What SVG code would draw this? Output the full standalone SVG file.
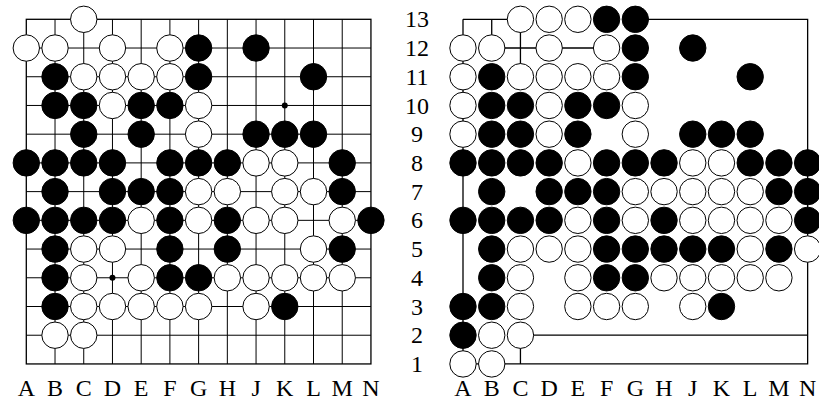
<svg xmlns="http://www.w3.org/2000/svg" width="819" height="402" viewBox="0 0 819 402">
<style>
.grid{fill:none;stroke:#000;stroke-width:1}
.edge{fill:none;stroke:#000;stroke-width:1.3}
.w{fill:#fff;stroke:#000;stroke-width:1}
.b{fill:#000;stroke:#000;stroke-width:1}
.star{fill:#000}
text{font-family:"Liberation Serif","Times New Roman",serif;font-size:24px;fill:#000;text-anchor:middle}
</style>
<rect width="819" height="402" fill="#fff"/>
<g id="left-board" transform="translate(26.3,19.3)">
<g id="left-grid">
<path class="grid" d="M0 28.72H344.64M0 57.44H344.64M0 86.16H344.64M0 114.88H344.64M0 143.6H344.64M0 172.32H344.64M0 201.04H344.64M0 229.76H344.64M0 258.48H344.64M0 287.2H344.64M0 315.92H344.64M28.72 0V344.64M57.44 0V344.64M86.16 0V344.64M114.88 0V344.64M143.6 0V344.64M172.32 0V344.64M201.04 0V344.64M229.76 0V344.64M258.48 0V344.64M287.2 0V344.64M315.92 0V344.64"/>
<rect class="edge" x="0" y="0" width="344.64" height="344.64"/>
<circle class="star" cx="258.48" cy="86.16" r="3"/>
<circle class="star" cx="86.16" cy="258.48" r="3"/>
</g>
<g id="left-stones">
<circle class="w" cx="57.44" cy="0" r="13.2"/>
<circle class="w" cx="0" cy="28.72" r="13.2"/>
<circle class="w" cx="28.72" cy="28.72" r="13.2"/>
<circle class="w" cx="86.16" cy="28.72" r="13.2"/>
<circle class="w" cx="143.6" cy="28.72" r="13.2"/>
<circle class="b" cx="172.32" cy="28.72" r="13.2"/>
<circle class="b" cx="229.76" cy="28.72" r="13.2"/>
<circle class="b" cx="28.72" cy="57.44" r="13.2"/>
<circle class="w" cx="57.44" cy="57.44" r="13.2"/>
<circle class="w" cx="86.16" cy="57.44" r="13.2"/>
<circle class="w" cx="114.88" cy="57.44" r="13.2"/>
<circle class="w" cx="143.6" cy="57.44" r="13.2"/>
<circle class="b" cx="172.32" cy="57.44" r="13.2"/>
<circle class="b" cx="287.2" cy="57.44" r="13.2"/>
<circle class="b" cx="28.72" cy="86.16" r="13.2"/>
<circle class="b" cx="57.44" cy="86.16" r="13.2"/>
<circle class="w" cx="86.16" cy="86.16" r="13.2"/>
<circle class="b" cx="114.88" cy="86.16" r="13.2"/>
<circle class="b" cx="143.6" cy="86.16" r="13.2"/>
<circle class="w" cx="172.32" cy="86.16" r="13.2"/>
<circle class="b" cx="57.44" cy="114.88" r="13.2"/>
<circle class="b" cx="114.88" cy="114.88" r="13.2"/>
<circle class="w" cx="172.32" cy="114.88" r="13.2"/>
<circle class="b" cx="229.76" cy="114.88" r="13.2"/>
<circle class="b" cx="258.48" cy="114.88" r="13.2"/>
<circle class="b" cx="287.2" cy="114.88" r="13.2"/>
<circle class="b" cx="0" cy="143.6" r="13.2"/>
<circle class="b" cx="28.72" cy="143.6" r="13.2"/>
<circle class="b" cx="57.44" cy="143.6" r="13.2"/>
<circle class="b" cx="86.16" cy="143.6" r="13.2"/>
<circle class="b" cx="143.6" cy="143.6" r="13.2"/>
<circle class="b" cx="172.32" cy="143.6" r="13.2"/>
<circle class="b" cx="201.04" cy="143.6" r="13.2"/>
<circle class="w" cx="229.76" cy="143.6" r="13.2"/>
<circle class="w" cx="258.48" cy="143.6" r="13.2"/>
<circle class="b" cx="315.92" cy="143.6" r="13.2"/>
<circle class="b" cx="28.72" cy="172.32" r="13.2"/>
<circle class="b" cx="86.16" cy="172.32" r="13.2"/>
<circle class="b" cx="114.88" cy="172.32" r="13.2"/>
<circle class="b" cx="143.6" cy="172.32" r="13.2"/>
<circle class="w" cx="172.32" cy="172.32" r="13.2"/>
<circle class="w" cx="201.04" cy="172.32" r="13.2"/>
<circle class="w" cx="258.48" cy="172.32" r="13.2"/>
<circle class="w" cx="287.2" cy="172.32" r="13.2"/>
<circle class="b" cx="315.92" cy="172.32" r="13.2"/>
<circle class="b" cx="0" cy="201.04" r="13.2"/>
<circle class="b" cx="28.72" cy="201.04" r="13.2"/>
<circle class="b" cx="57.44" cy="201.04" r="13.2"/>
<circle class="b" cx="86.16" cy="201.04" r="13.2"/>
<circle class="w" cx="114.88" cy="201.04" r="13.2"/>
<circle class="b" cx="143.6" cy="201.04" r="13.2"/>
<circle class="w" cx="172.32" cy="201.04" r="13.2"/>
<circle class="b" cx="201.04" cy="201.04" r="13.2"/>
<circle class="w" cx="229.76" cy="201.04" r="13.2"/>
<circle class="w" cx="258.48" cy="201.04" r="13.2"/>
<circle class="w" cx="315.92" cy="201.04" r="13.2"/>
<circle class="b" cx="344.64" cy="201.04" r="13.2"/>
<circle class="b" cx="28.72" cy="229.76" r="13.2"/>
<circle class="w" cx="57.44" cy="229.76" r="13.2"/>
<circle class="w" cx="86.16" cy="229.76" r="13.2"/>
<circle class="b" cx="143.6" cy="229.76" r="13.2"/>
<circle class="b" cx="201.04" cy="229.76" r="13.2"/>
<circle class="w" cx="287.2" cy="229.76" r="13.2"/>
<circle class="b" cx="315.92" cy="229.76" r="13.2"/>
<circle class="b" cx="28.72" cy="258.48" r="13.2"/>
<circle class="w" cx="57.44" cy="258.48" r="13.2"/>
<circle class="w" cx="114.88" cy="258.48" r="13.2"/>
<circle class="b" cx="143.6" cy="258.48" r="13.2"/>
<circle class="b" cx="172.32" cy="258.48" r="13.2"/>
<circle class="w" cx="201.04" cy="258.48" r="13.2"/>
<circle class="w" cx="229.76" cy="258.48" r="13.2"/>
<circle class="w" cx="258.48" cy="258.48" r="13.2"/>
<circle class="w" cx="287.2" cy="258.48" r="13.2"/>
<circle class="w" cx="315.92" cy="258.48" r="13.2"/>
<circle class="b" cx="28.72" cy="287.2" r="13.2"/>
<circle class="w" cx="57.44" cy="287.2" r="13.2"/>
<circle class="w" cx="86.16" cy="287.2" r="13.2"/>
<circle class="w" cx="114.88" cy="287.2" r="13.2"/>
<circle class="w" cx="143.6" cy="287.2" r="13.2"/>
<circle class="w" cx="172.32" cy="287.2" r="13.2"/>
<circle class="w" cx="229.76" cy="287.2" r="13.2"/>
<circle class="b" cx="258.48" cy="287.2" r="13.2"/>
<circle class="w" cx="28.72" cy="315.92" r="13.2"/>
<circle class="w" cx="57.44" cy="315.92" r="13.2"/>
</g>
</g>
<g id="right-board" transform="translate(463,19.3)">
<g id="right-lines">
<path class="edge" d="M0 0H57.44M172.32 0H344.64V344.64H0V0M28.72 0V28.72M28.72 28.72H143.6M57.44 0V57.44M57.44 315.92H344.64M57.44 315.92V344.64"/>
</g>
<g id="right-stones">
<circle class="w" cx="57.44" cy="0" r="13.2"/>
<circle class="w" cx="86.16" cy="0" r="13.2"/>
<circle class="w" cx="114.88" cy="0" r="13.2"/>
<circle class="b" cx="143.6" cy="0" r="13.2"/>
<circle class="b" cx="172.32" cy="0" r="13.2"/>
<circle class="w" cx="0" cy="28.72" r="13.2"/>
<circle class="w" cx="28.72" cy="28.72" r="13.2"/>
<circle class="w" cx="86.16" cy="28.72" r="13.2"/>
<circle class="w" cx="143.6" cy="28.72" r="13.2"/>
<circle class="b" cx="172.32" cy="28.72" r="13.2"/>
<circle class="b" cx="229.76" cy="28.72" r="13.2"/>
<circle class="w" cx="0" cy="57.44" r="13.2"/>
<circle class="b" cx="28.72" cy="57.44" r="13.2"/>
<circle class="w" cx="57.44" cy="57.44" r="13.2"/>
<circle class="w" cx="86.16" cy="57.44" r="13.2"/>
<circle class="w" cx="114.88" cy="57.44" r="13.2"/>
<circle class="w" cx="143.6" cy="57.44" r="13.2"/>
<circle class="b" cx="172.32" cy="57.44" r="13.2"/>
<circle class="b" cx="287.2" cy="57.44" r="13.2"/>
<circle class="w" cx="0" cy="86.16" r="13.2"/>
<circle class="b" cx="28.72" cy="86.16" r="13.2"/>
<circle class="b" cx="57.44" cy="86.16" r="13.2"/>
<circle class="w" cx="86.16" cy="86.16" r="13.2"/>
<circle class="b" cx="114.88" cy="86.16" r="13.2"/>
<circle class="b" cx="143.6" cy="86.16" r="13.2"/>
<circle class="w" cx="172.32" cy="86.16" r="13.2"/>
<circle class="w" cx="0" cy="114.88" r="13.2"/>
<circle class="b" cx="28.72" cy="114.88" r="13.2"/>
<circle class="b" cx="57.44" cy="114.88" r="13.2"/>
<circle class="w" cx="86.16" cy="114.88" r="13.2"/>
<circle class="b" cx="114.88" cy="114.88" r="13.2"/>
<circle class="w" cx="172.32" cy="114.88" r="13.2"/>
<circle class="b" cx="229.76" cy="114.88" r="13.2"/>
<circle class="b" cx="258.48" cy="114.88" r="13.2"/>
<circle class="b" cx="287.2" cy="114.88" r="13.2"/>
<circle class="b" cx="0" cy="143.6" r="13.2"/>
<circle class="b" cx="28.72" cy="143.6" r="13.2"/>
<circle class="b" cx="57.44" cy="143.6" r="13.2"/>
<circle class="b" cx="86.16" cy="143.6" r="13.2"/>
<circle class="w" cx="114.88" cy="143.6" r="13.2"/>
<circle class="b" cx="143.6" cy="143.6" r="13.2"/>
<circle class="b" cx="172.32" cy="143.6" r="13.2"/>
<circle class="b" cx="201.04" cy="143.6" r="13.2"/>
<circle class="w" cx="229.76" cy="143.6" r="13.2"/>
<circle class="w" cx="258.48" cy="143.6" r="13.2"/>
<circle class="b" cx="287.2" cy="143.6" r="13.2"/>
<circle class="b" cx="315.92" cy="143.6" r="13.2"/>
<circle class="b" cx="344.64" cy="143.6" r="13.2"/>
<circle class="b" cx="28.72" cy="172.32" r="13.2"/>
<circle class="b" cx="86.16" cy="172.32" r="13.2"/>
<circle class="b" cx="114.88" cy="172.32" r="13.2"/>
<circle class="b" cx="143.6" cy="172.32" r="13.2"/>
<circle class="w" cx="172.32" cy="172.32" r="13.2"/>
<circle class="w" cx="201.04" cy="172.32" r="13.2"/>
<circle class="w" cx="229.76" cy="172.32" r="13.2"/>
<circle class="w" cx="258.48" cy="172.32" r="13.2"/>
<circle class="w" cx="287.2" cy="172.32" r="13.2"/>
<circle class="b" cx="315.92" cy="172.32" r="13.2"/>
<circle class="b" cx="344.64" cy="172.32" r="13.2"/>
<circle class="b" cx="0" cy="201.04" r="13.2"/>
<circle class="b" cx="28.72" cy="201.04" r="13.2"/>
<circle class="b" cx="57.44" cy="201.04" r="13.2"/>
<circle class="b" cx="86.16" cy="201.04" r="13.2"/>
<circle class="w" cx="114.88" cy="201.04" r="13.2"/>
<circle class="b" cx="143.6" cy="201.04" r="13.2"/>
<circle class="w" cx="172.32" cy="201.04" r="13.2"/>
<circle class="b" cx="201.04" cy="201.04" r="13.2"/>
<circle class="w" cx="229.76" cy="201.04" r="13.2"/>
<circle class="w" cx="258.48" cy="201.04" r="13.2"/>
<circle class="w" cx="287.2" cy="201.04" r="13.2"/>
<circle class="w" cx="315.92" cy="201.04" r="13.2"/>
<circle class="b" cx="344.64" cy="201.04" r="13.2"/>
<circle class="b" cx="28.72" cy="229.76" r="13.2"/>
<circle class="w" cx="57.44" cy="229.76" r="13.2"/>
<circle class="w" cx="86.16" cy="229.76" r="13.2"/>
<circle class="w" cx="114.88" cy="229.76" r="13.2"/>
<circle class="b" cx="143.6" cy="229.76" r="13.2"/>
<circle class="b" cx="172.32" cy="229.76" r="13.2"/>
<circle class="b" cx="201.04" cy="229.76" r="13.2"/>
<circle class="b" cx="229.76" cy="229.76" r="13.2"/>
<circle class="b" cx="258.48" cy="229.76" r="13.2"/>
<circle class="w" cx="287.2" cy="229.76" r="13.2"/>
<circle class="b" cx="315.92" cy="229.76" r="13.2"/>
<circle class="w" cx="344.64" cy="229.76" r="13.2"/>
<circle class="b" cx="28.72" cy="258.48" r="13.2"/>
<circle class="w" cx="57.44" cy="258.48" r="13.2"/>
<circle class="w" cx="114.88" cy="258.48" r="13.2"/>
<circle class="b" cx="143.6" cy="258.48" r="13.2"/>
<circle class="b" cx="172.32" cy="258.48" r="13.2"/>
<circle class="w" cx="201.04" cy="258.48" r="13.2"/>
<circle class="w" cx="229.76" cy="258.48" r="13.2"/>
<circle class="w" cx="258.48" cy="258.48" r="13.2"/>
<circle class="w" cx="287.2" cy="258.48" r="13.2"/>
<circle class="w" cx="315.92" cy="258.48" r="13.2"/>
<circle class="b" cx="0" cy="287.2" r="13.2"/>
<circle class="b" cx="28.72" cy="287.2" r="13.2"/>
<circle class="w" cx="57.44" cy="287.2" r="13.2"/>
<circle class="w" cx="114.88" cy="287.2" r="13.2"/>
<circle class="w" cx="143.6" cy="287.2" r="13.2"/>
<circle class="w" cx="172.32" cy="287.2" r="13.2"/>
<circle class="w" cx="229.76" cy="287.2" r="13.2"/>
<circle class="b" cx="258.48" cy="287.2" r="13.2"/>
<circle class="b" cx="0" cy="315.92" r="13.2"/>
<circle class="w" cx="28.72" cy="315.92" r="13.2"/>
<circle class="w" cx="57.44" cy="315.92" r="13.2"/>
<circle class="w" cx="0" cy="344.64" r="13.2"/>
<circle class="w" cx="28.72" cy="344.64" r="13.2"/>
</g>
</g>
<g id="row-labels">
<text x="417" y="27.3">13</text>
<text x="417" y="56">12</text>
<text x="417" y="84.7">11</text>
<text x="417" y="113.5">10</text>
<text x="417" y="142.2">9</text>
<text x="417" y="170.9">8</text>
<text x="417" y="199.6">7</text>
<text x="417" y="228.3">6</text>
<text x="417" y="257.1">5</text>
<text x="417" y="285.8">4</text>
<text x="417" y="314.5">3</text>
<text x="417" y="343.2">2</text>
<text x="417" y="371.9">1</text>
</g>
<g id="left-col-labels">
<text x="26.3" y="396">A</text>
<text x="55.02" y="396">B</text>
<text x="83.74" y="396">C</text>
<text x="112.46" y="396">D</text>
<text x="141.18" y="396">E</text>
<text x="169.9" y="396">F</text>
<text x="198.62" y="396">G</text>
<text x="227.34" y="396">H</text>
<text x="256.06" y="396">J</text>
<text x="284.78" y="396">K</text>
<text x="313.5" y="396">L</text>
<text x="342.22" y="396">M</text>
<text x="370.94" y="396">N</text>
</g>
<g id="right-col-labels">
<text x="463" y="396">A</text>
<text x="491.72" y="396">B</text>
<text x="520.44" y="396">C</text>
<text x="549.16" y="396">D</text>
<text x="577.88" y="396">E</text>
<text x="606.6" y="396">F</text>
<text x="635.32" y="396">G</text>
<text x="664.04" y="396">H</text>
<text x="692.76" y="396">J</text>
<text x="721.48" y="396">K</text>
<text x="750.2" y="396">L</text>
<text x="778.92" y="396">M</text>
<text x="807.64" y="396">N</text>
</g>
</svg>
